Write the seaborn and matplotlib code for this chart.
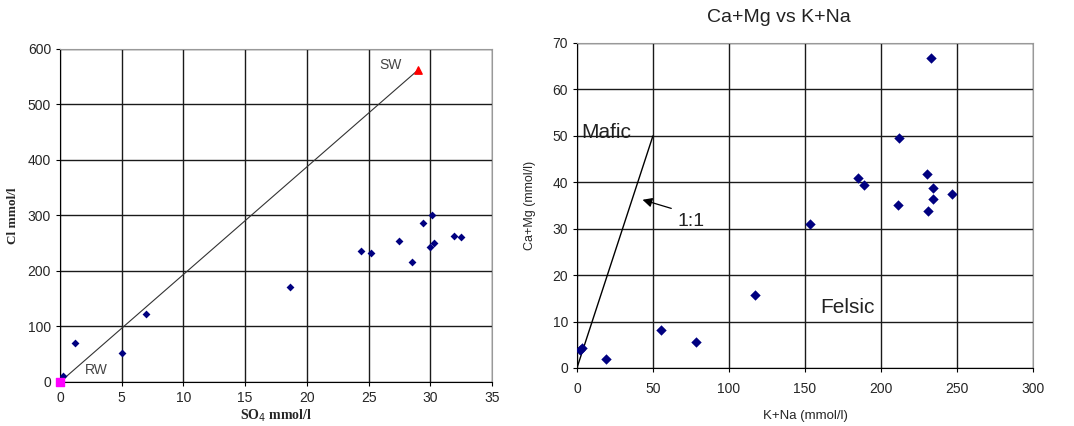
import numpy as np
import pandas as pd
import matplotlib
matplotlib.use("Agg")
import matplotlib.pyplot as plt
import seaborn as sns

# Left panel: Cl vs SO4
so4 = [0.2, 1.2, 5.0, 7.0, 18.6, 24.4, 25.2, 27.5, 28.5, 29.4, 30.1, 30.0, 30.3, 31.9, 32.5]
cl = [10, 70, 52, 122, 171, 236, 233, 254, 216, 287, 301, 244, 250, 263, 262]
rw_point = (0.0, 0.0)
sw_point = (29.0, 562.0)

# Right panel: Ca+Mg vs K+Na
k_na = [2, 3, 19, 55, 78, 117, 153, 185, 189, 211, 212, 230, 231, 233, 234, 234, 247]
ca_mg = [3.8, 4.2, 2.0, 8.2, 5.5, 15.7, 31.0, 41.0, 39.5, 35.0, 49.6, 41.8, 33.8, 66.8, 38.8, 36.5, 37.5]
one_to_one = [0, 50]

df_left = pd.DataFrame({"SO4": so4, "Cl": cl})
df_right = pd.DataFrame({"KNa": k_na, "CaMg": ca_mg})

sns.set_style("white")
plt.rcParams["font.family"] = ["Liberation Sans", "DejaVu Sans"]

fig = plt.figure(figsize=(10.74, 4.26), dpi=100)
ax1 = fig.add_axes([0.0559, 0.1033, 0.4022, 0.7817])
ax2 = fig.add_axes([0.5372, 0.1362, 0.4246, 0.7629])

navy = "#000080"
grid_col = "#1a1a1a"

# ── left ──
sns.scatterplot(data=df_left, x="SO4", y="Cl", ax=ax1, marker="D", s=16,
                color=navy, edgecolor=navy, linewidth=0, zorder=4)
ax1.plot([rw_point[0], sw_point[0]], [rw_point[1], sw_point[1]],
         color="#333333", lw=0.8, zorder=3)
ax1.scatter([sw_point[0]], [sw_point[1]], marker="^", s=28, color="red", zorder=5)
ax1.scatter([rw_point[0]], [rw_point[1]], marker="s", s=30, color="magenta", zorder=5,
            clip_on=False)
ax1.text(25.9, 571, "SW", fontsize=10, color="#444444", va="center")
ax1.text(2.0, 22, "RW", fontsize=10, color="#444444", va="center")
ax1.set_xlim(0, 35)
ax1.set_ylim(0, 600)
ax1.set_xticks(np.arange(0, 36, 5))
ax1.set_yticks(np.arange(0, 601, 100))
ax1.set_xlabel("SO$_4$ mmol/l", fontsize=10, fontweight="bold",
               family="Liberation Serif", labelpad=2)
ax1.set_ylabel("Cl mmol/l", fontsize=9.5, fontweight="bold",
               family="Liberation Serif", labelpad=6)

# ── right ──
sns.scatterplot(data=df_right, x="KNa", y="CaMg", ax=ax2, marker="D", s=28,
                color=navy, edgecolor=navy, linewidth=0, zorder=4)
ax2.plot(one_to_one, one_to_one, color="black", lw=1.0, zorder=3)
ax2.annotate("", xy=(41.4, 36.4), xytext=(63.8, 34.2),
             arrowprops=dict(arrowstyle="-|>", color="black", lw=0.9,
                             mutation_scale=14), zorder=5)
ax2.text(66, 31.6, "1:1", fontsize=14, color="#222222", va="center")
ax2.text(3, 48.6, "Mafic", fontsize=15, color="#222222", va="bottom", zorder=0.1)
ax2.text(160, 13.1, "Felsic", fontsize=15, color="#222222", va="center")
ax2.set_xlim(0, 300)
ax2.set_ylim(0, 70)
ax2.set_xticks(np.arange(0, 301, 50))
ax2.set_yticks(np.arange(0, 71, 10))
ax2.set_xlabel("K+Na (mmol/l)", fontsize=9.5, labelpad=10)
ax2.set_ylabel("Ca+Mg (mmol/l)", fontsize=9, labelpad=12)
fig.text(779 / 1074, 1 - 18 / 426, "Ca+Mg vs K+Na", fontsize=14, ha="center",
         va="center", color="#222222")

for ax in (ax1, ax2):
    ax.grid(True, color=grid_col, lw=1.0, zorder=0)
    ax.set_axisbelow(True)
    ax.tick_params(labelsize=10, length=3, direction="out", left=True, bottom=True,
                   color="black")
    for side in ("left", "bottom"):
        ax.spines[side].set_color("black")
    for side in ("top", "right"):
        ax.spines[side].set_color("#999999")
ax2.tick_params(axis="x", pad=7)

fig.savefig("out.png", dpi=100)
